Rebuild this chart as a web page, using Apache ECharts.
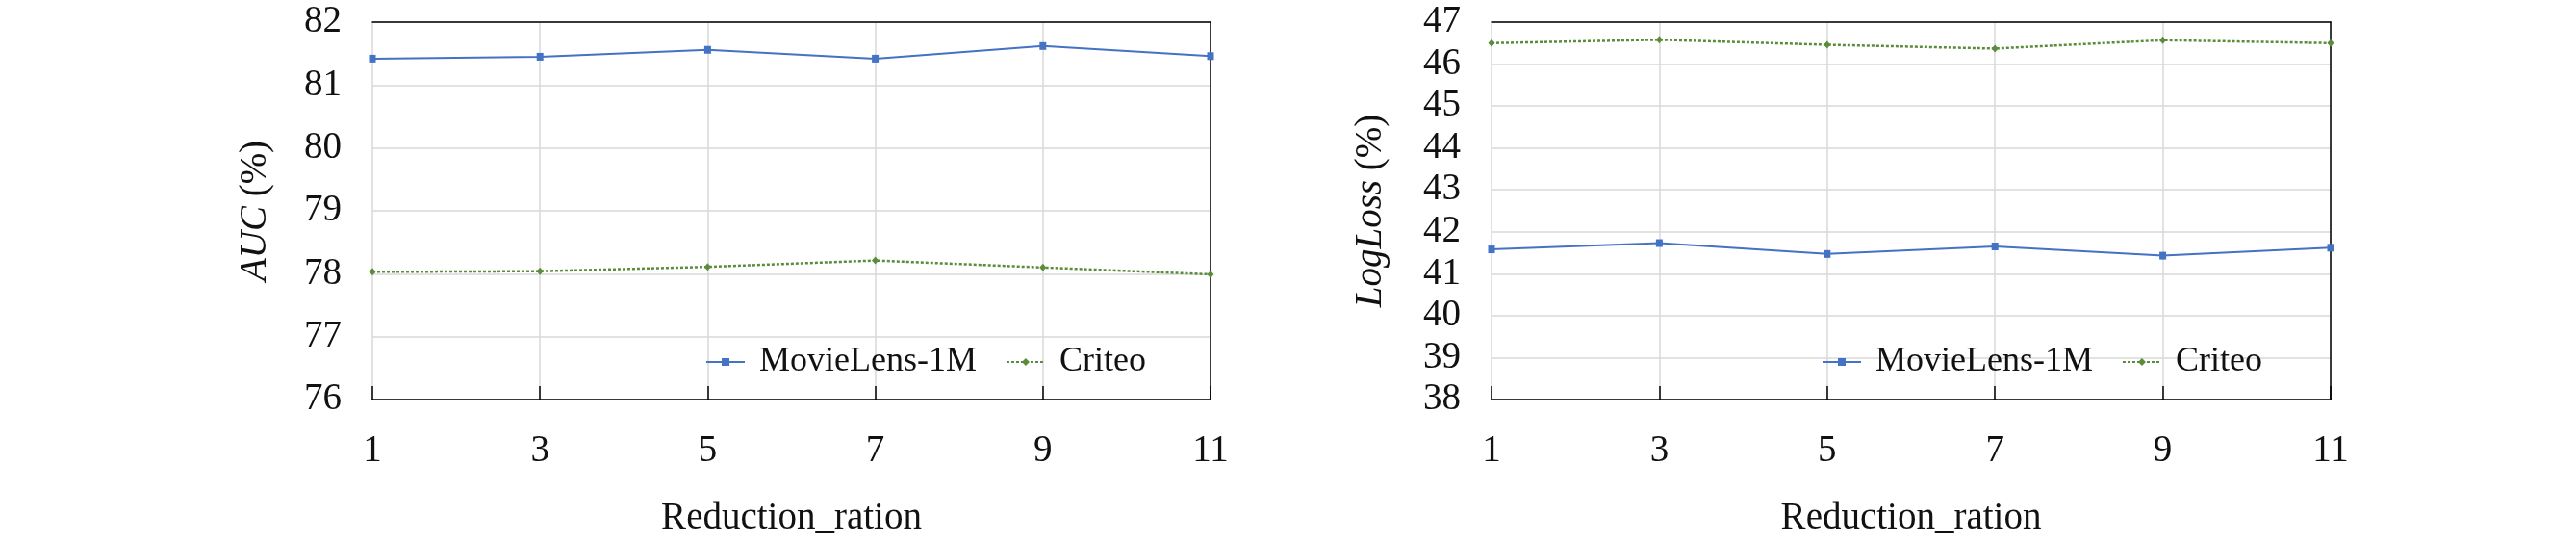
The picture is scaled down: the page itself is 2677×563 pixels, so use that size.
<!DOCTYPE html>
<html>
<head>
<meta charset="utf-8">
<title>AUC / LogLoss vs Reduction_ration</title>
<script src="https://cdn.jsdelivr.net/npm/echarts@6/dist/echarts.min.js"></script>
<style>
    html, body { margin: 0; padding: 0; background: #fff; }
    #chart { width: 2677px; height: 563px; }
</style>
</head>
<body>
<div id="chart"></div>
<script>

// Data
// ------------------------------

var ratios = ['1', '3', '5', '7', '9', '11'];
var seriesNames = ['MovieLens-1M', 'Criteo'];

// AUC (%)
var aucMovieLens = [81.42, 81.45, 81.56, 81.42, 81.62, 81.46];
var aucCriteo = [78.03, 78.04, 78.11, 78.21, 78.10, 77.99];

// LogLoss (%)
var loglossMovieLens = [41.58, 41.73, 41.47, 41.65, 41.43, 41.62];
var loglossCriteo = [46.50, 46.58, 46.46, 46.37, 46.57, 46.50];


// Setup
// ------------------------------

var font = "'Liberation Serif', 'Times New Roman', serif";
var blue = '#4472C4';
var green = '#5B8C3A';
var frame = { color: '#000', width: 1.5 };

var chart = echarts.init(document.getElementById('chart'));

// bottom category axis
var xAxisFor = function (gridIndex) {
    return {
        type: 'category',
        gridIndex: gridIndex,
        data: ratios,
        boundaryGap: false,
        name: 'Reduction_ration',
        nameLocation: 'middle',
        nameGap: 104,
        nameTextStyle: { color: '#111', fontFamily: font, fontSize: 39 },
        axisLine: { lineStyle: frame },
        axisTick: { inside: true, length: 14, lineStyle: frame },
        axisLabel: { color: '#111', fontFamily: font, fontSize: 39, margin: 34 },
        splitLine: { show: true, lineStyle: { color: '#d9d9d9', width: 1.5 } }
    };
};

// top edge of the frame (line only)
var topAxisFor = function (gridIndex) {
    return {
        type: 'category',
        gridIndex: gridIndex,
        data: ratios,
        boundaryGap: false,
        position: 'top',
        axisLine: { lineStyle: frame },
        axisTick: { show: false },
        axisLabel: { show: false },
        splitLine: { show: false }
    };
};

var yAxisFor = function (gridIndex, min, max, name, gap) {
    return {
        type: 'value',
        gridIndex: gridIndex,
        min: min,
        max: max,
        interval: 1,
        name: name,
        nameLocation: 'middle',
        nameGap: gap,
        nameTextStyle: {
            color: '#111', fontFamily: font, fontSize: 39,
            rich: { i: { fontStyle: 'italic', fontFamily: font, fontSize: 39, color: '#111' } }
        },
        axisLine: { lineStyle: frame },
        axisTick: { inside: true, length: 14, lineStyle: frame },
        axisLabel: { color: '#111', fontFamily: font, fontSize: 39, margin: 32 },
        splitLine: { lineStyle: { color: '#d9d9d9', width: 1.5 } }
    };
};

// right edge of the frame (line only)
var rightAxisFor = function (gridIndex, min, max) {
    return {
        type: 'value',
        gridIndex: gridIndex,
        min: min,
        max: max,
        position: 'right',
        axisLine: { show: true, lineStyle: frame },
        axisTick: { show: false },
        axisLabel: { show: false },
        splitLine: { show: false }
    };
};

var lineSeries = function (name, idx, values, isDotted) {
    var c = isDotted ? green : blue;
    return {
        name: name,
        type: 'line',
        xAxisIndex: idx,
        yAxisIndex: idx,
        data: values,
        symbol: isDotted ? 'diamond' : 'rect',
        symbolSize: [7, 8],
        showSymbol: true,
        color: c,
        itemStyle: { color: c },
        lineStyle: {
            color: c,
            width: isDotted ? 2.5 : 2,
            type: isDotted ? [3, 2] : 'solid'
        },
        z: 5
    };
};

var legendFor = function (left) {
    return {
        data: seriesNames,
        left: left,
        top: 358,
        padding: 0,
        itemWidth: 40,
        itemHeight: 10,
        itemGap: 30,
        textStyle: { color: '#111', fontFamily: font, fontSize: 36, padding: [0, 0, 0, 10] }
    };
};

chart.setOption({
    animation: false,
    textStyle: { fontFamily: font },

    grid: [
        { left: 387, top: 23, width: 871, height: 394 },
        { left: 1550, top: 23, width: 872, height: 394 }
    ],

    legend: [legendFor(733), legendFor(1893)],

    xAxis: [xAxisFor(0), xAxisFor(1), topAxisFor(0), topAxisFor(1)],

    yAxis: [
        yAxisFor(0, 76, 82, '{i|AUC} (%)', 102),
        yAxisFor(1, 38, 47, '{i|LogLoss} (%)', 106),
        rightAxisFor(0, 76, 82),
        rightAxisFor(1, 38, 47)
    ],

    series: [
        lineSeries('MovieLens-1M', 0, aucMovieLens, false),
        lineSeries('Criteo', 0, aucCriteo, true),
        lineSeries('MovieLens-1M', 1, loglossMovieLens, false),
        lineSeries('Criteo', 1, loglossCriteo, true)
    ]
});
</script>
</body>
</html>
